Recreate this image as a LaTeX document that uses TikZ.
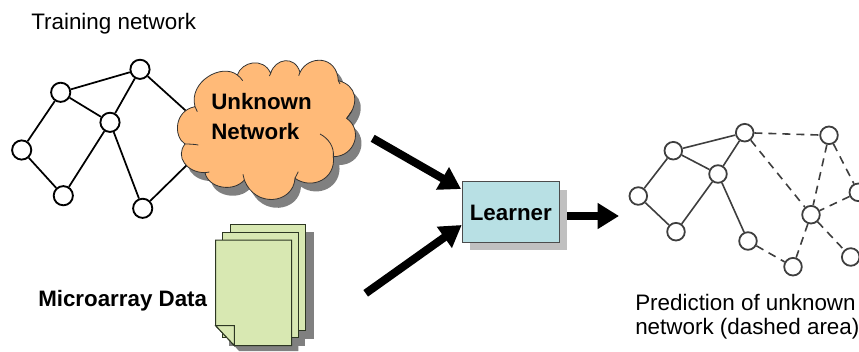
\documentclass[tikz,border=0pt]{standalone}
\usepackage{fontspec}
\setmainfont{Liberation Sans}
\usetikzlibrary{arrows.meta}
\definecolor{cloudfill}{RGB}{255,186,120}
\definecolor{docfill}{RGB}{216,232,178}
\definecolor{docline}{RGB}{45,55,35}
\definecolor{learnfill}{RGB}{184,224,228}
\definecolor{shadowdark}{RGB}{128,128,128}
\definecolor{shadowlight}{RGB}{192,192,192}
\definecolor{netgray}{RGB}{62,62,62}
\tikzset{
  lnode/.style={circle,draw=black,line width=1.4pt,minimum size=14.4pt,inner sep=0pt},
  ledge/.style={draw=black,line width=1.3pt},
  rnode/.style={circle,draw=netgray,line width=1.35pt,minimum size=13.2pt,inner sep=0pt},
  redge/.style={draw=netgray,line width=1.2pt},
  dedge/.style={draw=netgray,line width=1.2pt,dash pattern=on 6pt off 4.5pt},
  bigarrow/.style={draw=black,line width=6pt,-{Triangle[length=16pt,width=18.5pt]}},
  reg/.style={inner sep=0pt,font=\fontsize{16.8pt}{18pt}\selectfont},
  bld/.style={inner sep=0pt,font=\fontsize{16.75pt}{23pt}\selectfont\bfseries},
  doc/.style={draw=docline,line width=0.75pt,fill=docfill}
}
\newcommand{\cloudpath}{
  (555,312) .. controls (520,290) and (522,212) .. (585,200)
  .. controls (565,125) and (665,68) .. (712,105)
  .. controls (725,65) and (790,50) .. (812,100)
  .. controls (825,55) and (885,45) .. (900,97)
  .. controls (925,45) and (1010,45) .. (1015,122)
  .. controls (1070,135) and (1080,190) .. (1040,235)
  .. controls (1090,270) and (1065,350) .. (1000,350)
  .. controls (1008,418) and (935,450) .. (885,415)
  .. controls (880,492) and (765,505) .. (733,420)
  .. controls (700,458) and (625,445) .. (615,398)
  .. controls (560,398) and (525,350) .. (555,312) -- cycle
}
\begin{document}
\begin{tikzpicture}[x=0.75pt,y=-0.75pt]
\useasboundingbox (0,0) rectangle (859,351);
% left network
\node[lnode] (A) at (140,69.3) {};
\node[lnode] (B) at (60.7,92.3) {};
\node[lnode] (C) at (110,122.3) {};
\node[lnode] (D) at (21.7,150) {};
\node[lnode] (E) at (63.3,195.7) {};
\node[lnode] (F) at (142.7,208.3) {};
\coordinate (cl1) at (195,119);
\coordinate (cl2) at (195,157);
\draw[ledge] (A)--(B) (B)--(C) (A)--(C) (B)--(D) (D)--(E) (E)--(C) (C)--(F) (A)--(cl1) (F)--(cl2);
% cloud
\begin{scope}[x=0.25pt,y=-0.25pt,yshift=-30pt]
  \fill[shadowdark,shift={(18,25)}] \cloudpath;
  \draw[fill=cloudfill,draw=black!80,line width=0.6pt] \cloudpath;
  \draw[black!80,line width=0.6pt]
    (555,312) .. controls (570,312) and (585,313) .. (595,315)
    (585,200) -- (592,215)
    (712,105) .. controls (718,110) and (724,115) .. (728,122)
    (812,100) -- (808,108)
    (900,97) -- (896,107)
    (1015,122) -- (1020,132)
    (1040,235) -- (1056,212)
    (960,282) .. controls (985,295) and (1003,320) .. (1000,350)
    (885,415) -- (895,395)
    (733,420) -- (729,403)
    (615,398) -- (628,396);
\end{scope}
\node[bld,anchor=west,align=left] (cloudtext) at (211,116.5) {Unknown\\Network};
% documents
\fill[shadowdark] (237,232) rectangle (313.7,338.7);
\fill[shadowdark] (229,240) rectangle (304.5,345.7);
\fill[shadowdark] (222,248) -- (298.3,248) -- (298.3,351) -- (239,351) -- (221,331) -- cycle;
\draw[doc] (230,224.3) rectangle (305.7,330);
\draw[doc] (222.3,232.3) rectangle (298.3,337.3);
\draw[doc] (215.7,240) -- (291.7,240) -- (291.7,345.5) -- (234.3,345.5) -- (215.7,325.7) -- cycle;
\draw[doc] (215.7,325.7) -- (234.3,325.7) -- (234.3,345.5) -- cycle;
\node[bld,anchor=base west] (micro) at (38,306) {Microarray Data};
% learner
\fill[shadowlight] (469.5,189.5) rectangle (566.5,250);
\node[draw=black!70,line width=0.8pt,fill=learnfill,minimum width=72.7pt,minimum height=45.5pt,inner sep=0pt,anchor=north west] (learner) at (462.3,181) {};
\node[bld,anchor=base] (learnertext) at (510.8,220) {Learner};
% arrows
\coordinate (a1s) at (372.7,138.3);
\coordinate (a1e) at (461,189);
\coordinate (a2s) at (365.7,293.3);
\coordinate (a2e) at (461.7,225);
\coordinate (a3s) at (567.3,216);
\coordinate (a3e) at (619,216);
\draw[bigarrow] (a1s) -- (a1e);
\draw[bigarrow] (a2s) -- (a2e);
\draw[bigarrow] (a3s) -- (a3e);
% right network
\node[rnode] (a) at (744.7,132.7) {};
\node[rnode] (b) at (673.3,150.7) {};
\node[rnode] (c) at (718,174) {};
\node[rnode] (d) at (638.3,196) {};
\node[rnode] (e) at (676,231.7) {};
\node[rnode] (f) at (748,241) {};
\node[rnode] (g) at (829,135.3) {};
\node[rnode] (h) at (811,214.7) {};
\node[rnode] (i) at (858.3,192.3) {};
\node[rnode] (j) at (850.7,257) {};
\node[rnode] (k) at (793,266.7) {};
\draw[redge] (a)--(b) (b)--(c) (a)--(c) (b)--(d) (d)--(e) (e)--(c) (c)--(f);
\draw[dedge] (a)--(g) (a)--(h) (g)--(h) (g)--(i) (i)--(h) (h)--(j) (h)--(k) (f)--(k);
% labels
\node[reg,anchor=base west] (train) at (31,29) {Training network};
\node[reg,anchor=base west] (pred1) at (635,310) {Prediction of unknown};
\node[reg,anchor=base west] (pred2) at (635,334) {network (dashed area)};
\end{tikzpicture}
\end{document}
